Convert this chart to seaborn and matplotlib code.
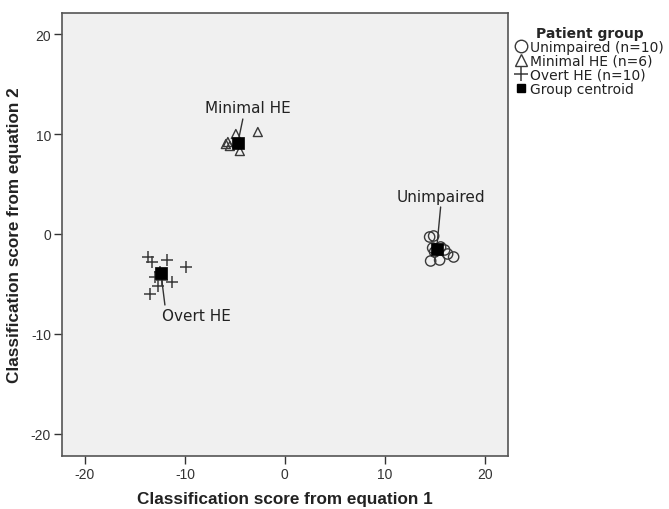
import numpy as np
import pandas as pd
import matplotlib
matplotlib.use("Agg")
import matplotlib.pyplot as plt
from matplotlib.lines import Line2D
import seaborn as sns

# Discriminant function scores per patient
unimpaired_x = [14.5, 14.9, 14.8, 15.6, 16.3, 16.9, 14.6, 15.5, 16.0, 15.0]
unimpaired_y = [-0.3, -0.2, -1.4, -1.3, -2.0, -2.3, -2.7, -2.6, -1.6, -1.8]
minimal_x = [-4.9, -5.7, -5.5, -4.5, -2.7, -5.9]
minimal_y = [10.0, 9.2, 8.8, 8.3, 10.2, 9.0]
overt_x = [-13.7, -13.3, -11.8, -9.9, -13.0, -12.7, -11.3, -13.5, -12.5, -12.3]
overt_y = [-2.3, -2.8, -2.6, -3.3, -4.3, -5.2, -4.8, -6.0, -3.8, -4.6]

# Group centroids
centroid_groups = ["Unimpaired", "Minimal HE", "Overt HE"]
centroid_x = [15.2, -4.7, -12.4]
centroid_y = [-1.5, 9.1, -3.9]

# Centroid labels: text position and the end of the leader line next to it
label_x = [15.6, -3.7, -8.8]
label_y = [3.7, 12.7, -8.2]
leader_x = [15.6, -4.2, -12.0]
leader_y = [2.7, 11.5, -7.1]

legend_labels = ["Unimpaired (n=10)", "Minimal HE (n=6)", "Overt HE (n=10)", "Group centroid"]
ticks = [-20, -10, 0, 10, 20]

sns.set_theme(style="white")
plt.rcParams["font.family"] = ["Liberation Sans", "DejaVu Sans"]
plt.rcParams["axes.unicode_minus"] = False

fig = plt.figure(figsize=(6.69, 5.10), dpi=100)
ax = fig.add_axes([0.0927, 0.104, 0.666, 0.8685])
ax.set_facecolor("#f0f0f0")

edge = "#3a3a3a"
sns.scatterplot(x=unimpaired_x, y=unimpaired_y, marker="o", s=55,
                facecolor="none", edgecolor=edge, linewidth=1.0, ax=ax)
sns.scatterplot(x=minimal_x, y=minimal_y, marker="^", s=42,
                facecolor="none", edgecolor=edge, linewidth=1.0, ax=ax)
sns.scatterplot(x=overt_x, y=overt_y, marker="+", s=80,
                color=edge, linewidth=1.1, ax=ax)

# Leader lines from each centroid to its label
for cx, cy, lx, ly in zip(centroid_x, centroid_y, leader_x, leader_y):
    ax.plot([cx, lx], [cy, ly], color="#333333", lw=1.0, zorder=4)

sns.scatterplot(x=centroid_x, y=centroid_y, marker="s", s=75,
                color="black", edgecolor="black", linewidth=0.5, ax=ax, zorder=5)

for name, lx, ly in zip(centroid_groups, label_x, label_y):
    ax.text(lx, ly, name, ha="center", va="center", fontsize=11,
            color="#222222", family="DejaVu Sans")

ax.set_xlim(-22.3, 22.3)
ax.set_ylim(-22.2, 22.1)
ax.set_xticks(ticks)
ax.set_yticks(ticks)
ax.tick_params(axis="both", direction="out", length=6, width=1, color="#333333",
               labelsize=10, labelcolor="#333333", bottom=True, left=True, pad=2)
for sp in ax.spines.values():
    sp.set_color("#555555")
    sp.set_linewidth(1.2)

ax.set_xlabel("Classification score from equation 1", fontsize=12.3, fontweight="bold",
              color="#222222", labelpad=7)
ax.set_ylabel("Classification score from equation 2", fontsize=12.3, fontweight="bold",
              color="#222222", labelpad=6)

handles = [
    Line2D([], [], marker="o", linestyle="none", markersize=9, markerfacecolor="none",
           markeredgecolor=edge, markeredgewidth=1.0),
    Line2D([], [], marker="^", linestyle="none", markersize=8, markerfacecolor="none",
           markeredgecolor=edge, markeredgewidth=1.0),
    Line2D([], [], marker="+", linestyle="none", markersize=10, markeredgecolor=edge,
           markeredgewidth=1.1),
    Line2D([], [], marker="s", linestyle="none", markersize=6, markerfacecolor="black",
           markeredgecolor="black"),
]
leg = ax.legend(handles, legend_labels, title="Patient group", loc="upper left",
                bbox_to_anchor=(1.0, 0.99), frameon=False,
                prop={"family": "DejaVu Sans", "size": 10},
                title_fontproperties={"family": "DejaVu Sans", "weight": "bold", "size": 10},
                handlelength=0.8, handletextpad=0.2, labelspacing=0.0,
                borderaxespad=0.2)
for t in leg.get_texts():
    t.set_color("#222222")

fig.savefig("out.png", dpi=100)
